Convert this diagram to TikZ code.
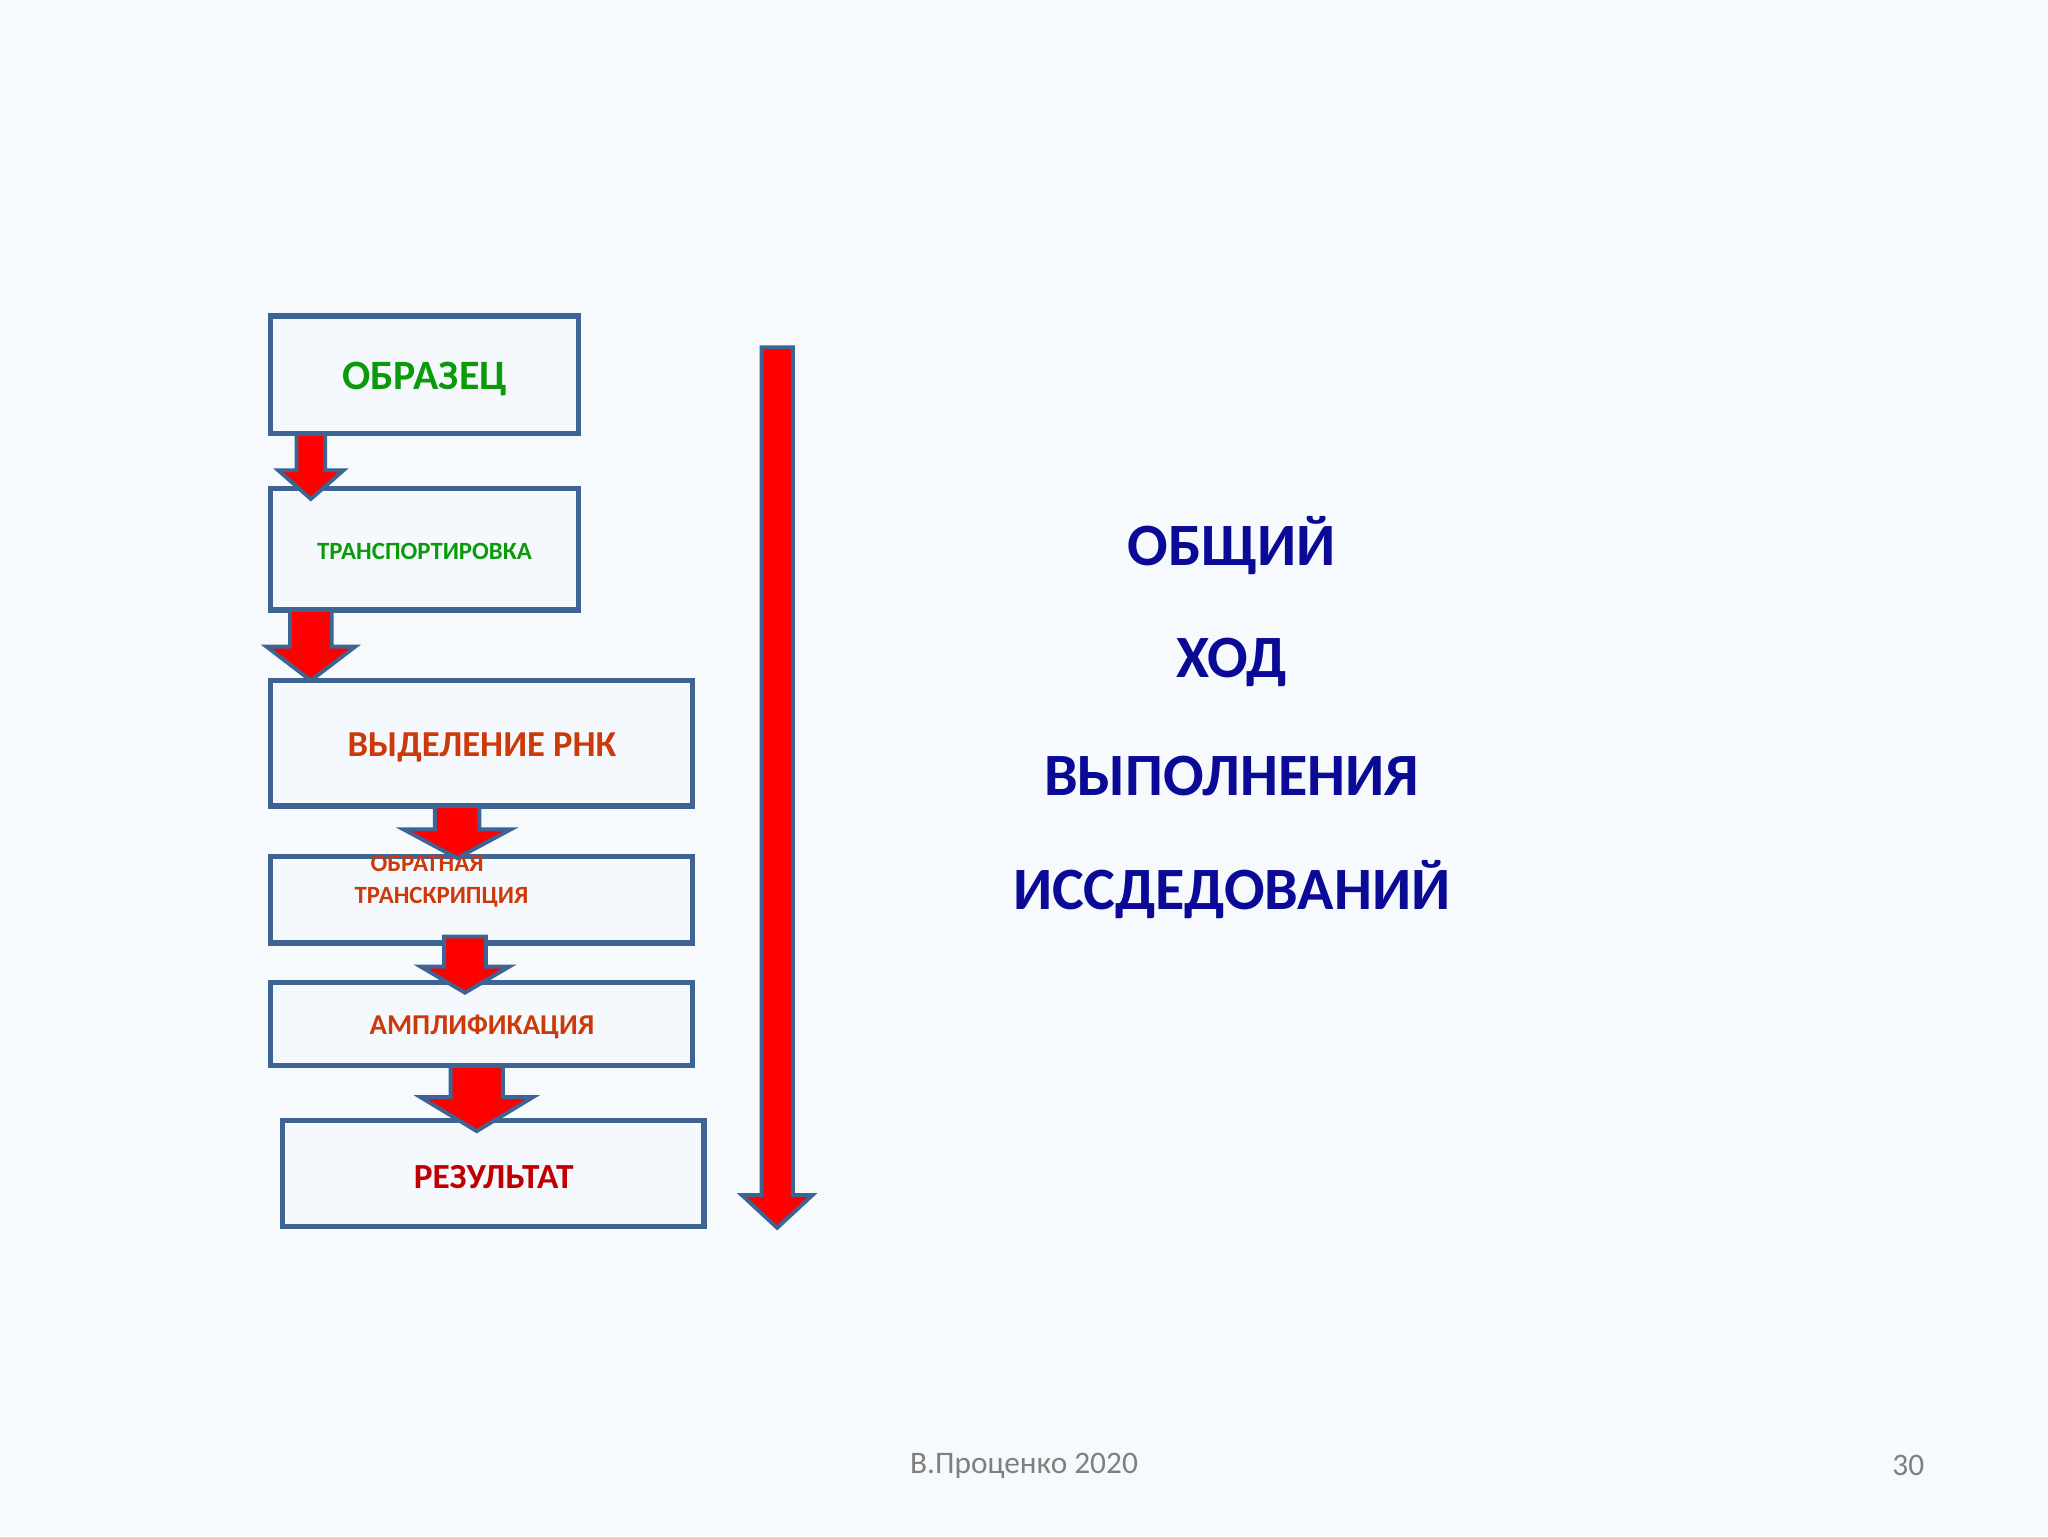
\documentclass[tikz,border=0pt]{standalone}
\usepackage{fontspec}
\setmainfont{Carlito}
\definecolor{bg}{HTML}{F7FAFD}
\definecolor{boxfill}{HTML}{F5F9FD}
\definecolor{boxline}{HTML}{3E6494}
\definecolor{tgreen}{HTML}{0A9A0A}
\definecolor{torange}{HTML}{CC3A0A}
\definecolor{tred}{HTML}{C00000}
\definecolor{tblue}{HTML}{0A0A96}
\definecolor{tgray}{HTML}{7F7F7F}
\newcommand\fs[1]{\fontsize{#1}{#1}\selectfont}
% cx, half shaft, ytop, yneck, half head, ytip
\newcommand\blockarrow[6]{\draw[arrowst] (#1-#2,#3) -- (#1+#2,#3) -- (#1+#2,#4) -- (#1+#5,#4) -- (#1,#6) -- (#1-#5,#4) -- (#1-#2,#4) -- cycle;}
\tikzset{
  stepbox/.style={draw=boxline, line width=4pt, fill=boxfill, inner sep=0pt},
  arrowst/.style={draw=boxline, fill=red, line width=3pt, line join=miter},
}
\begin{document}
\begin{tikzpicture}[x=1pt,y=-1pt]
\fill[bg] (0,0) rectangle (1568,1176);
\useasboundingbox (0,0) rectangle (1568,1176);
\node[stepbox, minimum width=236pt, minimum height=90pt] (b1) at (325,287) {};
\node[stepbox, minimum width=236pt, minimum height=93pt] (b2) at (325,420.5) {};
\node[stepbox, minimum width=323pt, minimum height=96pt] (b3) at (368.5,569) {};
\node[stepbox, minimum width=323pt, minimum height=66pt] (b4) at (368.5,689) {};
\node[stepbox, minimum width=323pt, minimum height=64pt] (b5) at (368.5,784) {};
\node[stepbox, minimum width=323pt, minimum height=81pt] (b6) at (377.5,898.5) {};
\node[text=tgreen, font=\bfseries\fs{32}] (t1) at (325,290) {ОБРАЗЕЦ};
\node[text=tgreen, font=\bfseries\fs{19}] (t2) at (325,422) {ТРАНСПОРТИРОВКА};
\node[text=torange, font=\bfseries\fs{28}] (t3) at (369,572) {ВЫДЕЛЕНИЕ РНК};
\node[text=torange, font=\bfseries\fs{19}] (t4a) at (327,661) {ОБРАТНАЯ};
\node[text=torange, font=\bfseries\fs{19}] (t4b) at (338,687) {ТРАНСКРИПЦИЯ};
\node[text=torange, font=\bfseries\fs{22}] (t5) at (369,786) {АМПЛИФИКАЦИЯ};
\node[text=tred, font=\bfseries\fs{27}] (t6) at (378,901) {РЕЗУЛЬТАТ};
\blockarrow{238}{11}{332}{360}{25}{382}
\blockarrow{238}{16}{467}{495}{34}{521}
\blockarrow{350}{17}{617}{635}{41}{657}
\blockarrow{356}{16}{717}{740}{34}{760}
\blockarrow{365}{20}{816}{840}{43}{866}
\blockarrow{595}{12}{266}{915}{27}{940}
\node[text=tblue, font=\bfseries\fs{46}] (h1) at (943,418) {ОБЩИЙ};
\node[text=tblue, font=\bfseries\fs{46}] (h2) at (943,507) {ХОД};
\node[text=tblue, font=\bfseries\fs{46}] (h3) at (943,594) {ВЫПОЛНЕНИЯ};
\node[text=tblue, font=\bfseries\fs{46}] (h4) at (943,681) {ИССДЕДОВАНИЙ};
\node[text=tgray, font=\fs{24}] (f1) at (784,1122) {В.Проценко 2020};
\node[text=tgray, font=\fs{24}] (f2) at (1461,1122) {30};
\end{tikzpicture}
\end{document}
